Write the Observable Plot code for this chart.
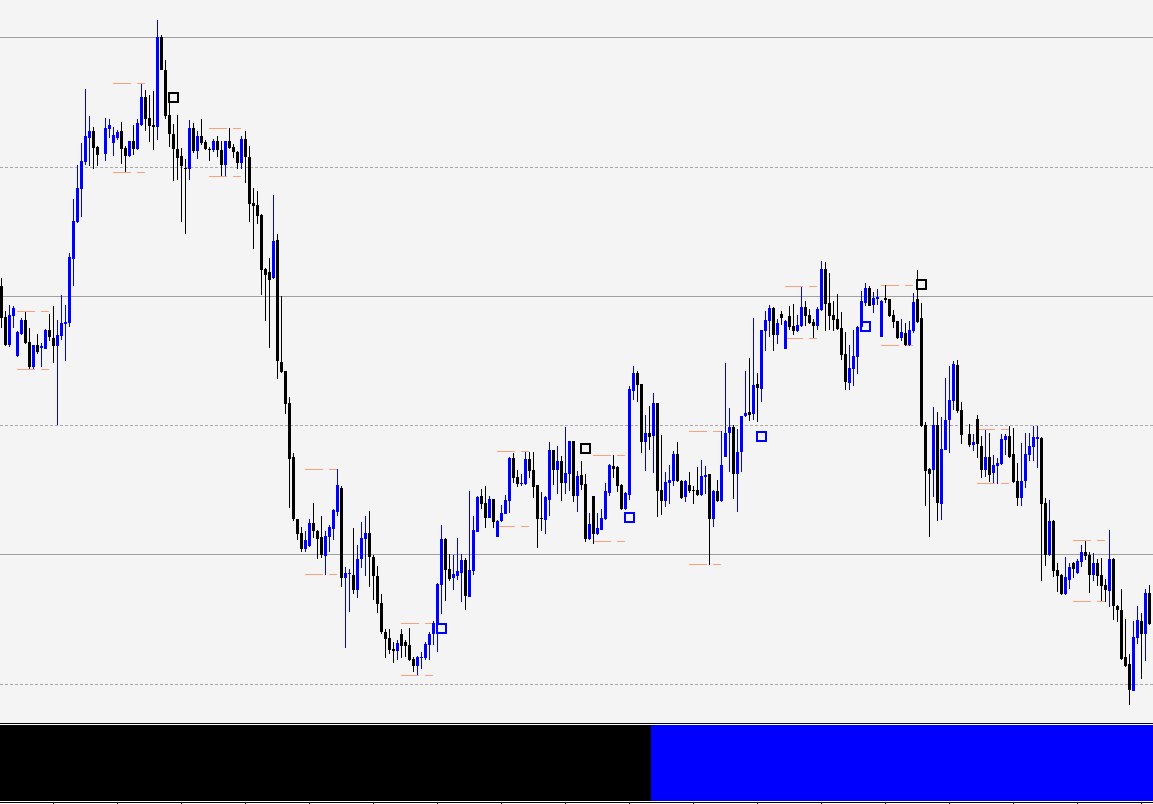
<!DOCTYPE html>
<html>
<head>
<meta charset="utf-8">
<script src="https://cdn.jsdelivr.net/npm/d3@7"></script>
<script src="https://cdn.jsdelivr.net/npm/@observablehq/plot@0.6"></script>
<style>
html, body { margin: 0; padding: 0; background: #ffffff; overflow: hidden; }
#strip { width: 1153px; border-top: 1px solid #000; border-bottom: 1px solid #000; background: #ffffff; }
svg { display: block; }
</style>
</head>
<body>
<div id="chart"></div>
<div id="strip"></div>
<div id="ticks"></div>
<script>
// ---- Price data (bar index 0..287, arbitrary price units; null = no bar) ----
const open = [
714,683,655,684,644,666,680,658,633,655,
652,651,670,662,654,664,676,677,741,778,
811,838,862,869,853,null,846,871,857,862,
869,852,844,859,851,875,903,882,875,873,
963,930,885,866,851,844,832,831,872,849,
864,858,851,850,859,850,835,859,853,848,
837,861,843,797,795,785,731,728,722,760,
638,629,597,543,481,467,451,454,477,469,
463,444,463,471,488,512,422,426,425,410,
441,461,467,443,424,397,368,362,351,349,
366,358,355,341,334,342,342,355,366,376,
415,461,431,422,424,427,440,403,429,468,
504,497,482,501,463,479,486,499,542,523,
516,516,541,530,515,482,480,500,550,530,
539,517,526,559,504,525,516,461,504,466,
470,481,507,534,533,515,491,505,609,627,
616,558,567,564,597,510,499,517,519,546,
519,503,515,510,510,505,523,526,481,509,
499,543,567,573,526,548,584,588,586,616,
611,669,679,692,665,686,651,684,674,669,
674,693,685,678,674,690,731,697,685,681,
672,646,617,631,643,673,697,712,695,701,
663,702,701,685,679,662,667,655,669,701,
682,575,531,530,575,496,550,580,599,635,
590,null,566,555,581,554,530,543,527,534,
536,560,564,546,519,502,519,545,553,561,
562,497,445,479,430,425,406,420,437,427,
438,448,445,425,437,425,415,409,441,394,
390,343,336,309,362,379,366,407
];
const high = [
722,689,695,694,669,682,688,672,655,666,
657,671,686,694,680,705,695,747,801,835,
857,911,884,873,854,null,882,881,873,870,
878,854,859,875,881,916,910,905,909,980,
965,940,898,876,885,852,841,880,877,869,
881,860,853,861,864,859,859,872,856,849,
864,869,854,812,809,786,732,742,805,766,
704,629,603,547,481,473,469,481,497,470,
484,469,475,491,531,514,433,431,472,455,
478,484,489,445,434,406,371,371,358,360,
371,360,372,343,344,348,358,368,379,417,
475,462,446,445,462,446,442,509,484,504,
511,514,504,501,480,495,505,543,547,530,
526,548,548,548,515,508,504,558,550,554,
544,573,559,559,529,539,526,487,504,487,
491,517,536,545,534,516,508,614,634,629,
616,585,594,607,597,565,528,535,549,558,
520,520,528,514,533,540,534,526,510,520,
569,637,592,575,571,584,629,642,682,627,
670,689,695,693,681,689,680,694,696,685,
713,699,691,681,693,739,738,727,699,706,
688,668,655,670,674,709,717,714,708,711,
700,715,701,690,679,681,677,679,707,730,
697,578,532,593,588,583,622,634,639,640,
598,null,576,566,585,564,570,567,545,542,
566,566,574,572,537,557,567,567,574,574,
563,502,500,480,437,426,443,437,438,441,
455,459,448,447,441,442,421,470,442,395,
411,381,346,379,394,387,411,415
];
const low = [
672,654,653,672,643,665,656,631,631,646,
633,651,659,637,575,660,639,673,714,777,
783,835,834,831,834,null,839,862,844,860,
836,828,843,845,850,874,869,858,850,860,
930,881,853,819,820,778,766,820,847,841,
855,850,839,848,843,824,824,851,842,831,
831,817,778,751,776,705,679,652,721,621,
627,586,492,479,460,448,448,453,462,441,
442,425,448,460,484,413,352,388,406,402,
432,424,413,400,387,366,342,346,337,340,
342,343,339,328,325,331,340,340,355,348,
386,399,419,410,420,398,390,403,425,468,
491,472,482,472,463,478,486,487,517,513,
514,515,522,502,452,469,466,484,515,506,
499,506,509,498,488,510,458,460,456,465,
470,480,504,522,508,490,490,500,600,598,
547,529,550,527,483,485,493,496,514,518,
501,498,507,496,504,504,506,435,473,498,
498,543,528,501,488,528,583,579,580,578,
598,649,663,649,656,675,651,670,665,668,
673,674,676,662,670,689,669,670,669,670,
640,610,610,614,626,672,694,694,687,695,
663,697,683,672,661,659,654,654,667,677,
573,494,463,503,479,480,550,547,590,587,
556,null,553,549,542,522,523,518,517,516,
535,545,542,517,494,494,512,539,539,532,
419,434,444,423,408,405,405,411,422,426,
433,440,407,419,414,399,398,393,380,378,
340,333,295,309,356,321,339,375
];
const close = [
682,655,685,692,668,680,657,633,655,648,
654,670,663,654,665,677,678,743,779,812,
839,864,869,852,845,null,872,875,865,868,
851,844,859,851,877,903,881,874,873,963,
930,884,866,851,842,834,831,872,849,864,
857,851,850,859,850,835,859,852,848,837,
861,843,796,794,784,730,725,720,759,639,
628,596,541,481,466,451,460,477,469,461,
445,464,473,490,515,422,427,427,410,441,
462,467,443,424,396,368,361,350,349,357,
354,354,340,334,343,343,356,366,377,416,
461,430,421,426,429,440,404,430,470,503,
496,482,501,478,479,487,500,542,522,516,
517,541,529,513,481,481,503,550,530,539,
517,527,559,504,524,515,461,476,466,472,
482,509,535,531,514,491,507,611,627,615,
558,567,563,597,509,499,518,520,546,519,
502,519,509,509,505,524,525,481,509,499,
535,567,573,526,548,584,587,585,615,612,
670,680,692,665,677,682,679,673,669,675,
693,684,677,674,691,731,696,684,680,671,
645,618,632,644,673,699,712,694,702,703,
699,700,684,678,662,668,655,670,698,678,
574,529,526,575,497,551,580,600,636,589,
565,null,555,558,556,530,543,525,535,537,
561,564,543,518,502,519,546,554,563,563,
496,445,479,429,424,406,423,433,431,439,
448,444,425,437,424,414,410,441,394,390,
341,334,310,363,380,366,407,376
];

// ---- Horizontal grid levels ----
const solidLevels = [963, 704, 446];
const dashedLevels = [833, 575, 316];

// ---- Daily range markers (bar index span, high/low level) ----
const rangeStart = [4, 28, 52, 76, 100, 124, 148, 172, 196, 220, 244, 268];
const rangeEnd   = [12, 36, 60, 84, 108, 132, 156, 180, 204, 228, 252, 276];
const rangeHigh  = [689, 917, 872, 531, 377, 549, 545, 569, 714, 715, 571, 460];
const rangeLow   = [631, 828, 824, 426, 325, 474, 459, 436, 662, 655, 517, 399];

// ---- Square signal markers ----
const signalIndex = [43, 146, 230, 110, 157, 190, 216];
const signalLevel = [903, 552, 716, 372, 483, 564, 674];
const signalColor = ["#000000", "#000000", "#000000", "#0000ff", "#0000ff", "#0000ff", "#0000ff"];

// ---- Lower indicator strip (runs of bars by colour) ----
const stripFrom  = [0, 163];
const stripTo    = [162, 287];
const stripColor = ["#000000", "#0000ff"];

// ---- Time-axis tick bars ----
const timeTicks = [13, 29, 45, 61, 77, 93, 109, 125, 141, 157, 173, 189, 205, 221, 237, 253, 269, 285];

// ---- Build tables ----
const bull = "#0000ff", bear = "#000000";
const candles = open.map((o, i) => ({i, open: o, high: high[i], low: low[i], close: close[i]}))
  .filter(d => d.open != null);
const candleColor = d => (d.close > d.open ? bull : bear);
const ranges = [];
rangeStart.forEach((s, k) => {
  ranges.push({x1: s, x2: rangeEnd[k], y: rangeHigh[k]});
  ranges.push({x1: s, x2: rangeEnd[k], y: rangeLow[k]});
});
const signals = signalIndex.map((x, k) => ({x, y: signalLevel[k], c: signalColor[k]}));
const strip = stripFrom.map((f, k) => ({x1: f - 0.5, x2: stripTo[k] + 0.5 + (k === stripFrom.length - 1 ? 0.5 : 0), c: stripColor[k]}));

const xOpts = {type: "linear", domain: [-0.5, 287.5], range: [-1, 1151], axis: null};

const main = Plot.plot({
  width: 1153, height: 723, margin: 0,
  x: xOpts,
  y: {domain: [277, 1000], axis: null},
  color: {type: "identity"},
  style: {background: "#f4f4f4", display: "block", maxWidth: "none"},
  marks: [
    Plot.ruleY(solidLevels, {stroke: "#a0a0a0"}),
    Plot.ruleY(dashedLevels, {stroke: "#a8a8a8", strokeDasharray: "3,2"}),
    Plot.ruleY(ranges, {x1: "x1", x2: "x2", y: "y", stroke: "#ffa07a", strokeDasharray: "18,6"}),
    Plot.ruleX(candles, {x: "i", y1: "low", y2: "high", stroke: candleColor, strokeWidth: 1}),
    Plot.ruleX(candles, {x: "i", y1: "open", y2: "close", stroke: candleColor, strokeWidth: 3}),
    Plot.dot(signals, {x: "x", y: "y", symbol: "square", r: 5.08, stroke: "c", strokeWidth: 2, fill: "none"})
  ]
});
document.getElementById("chart").append(main);

const lower = Plot.plot({
  width: 1153, height: 78, marginTop: 1, marginBottom: 1, marginLeft: 0, marginRight: 0,
  x: xOpts,
  y: {domain: [0, 1], axis: null},
  color: {type: "identity"},
  style: {background: "#ffffff", display: "block", maxWidth: "none"},
  marks: [
    Plot.rect(strip, {x1: "x1", x2: "x2", y1: 0, y2: 1, fill: "c"})
  ]
});
document.getElementById("strip").append(lower);

const ticks = Plot.plot({
  width: 1153, height: 2, margin: 0,
  x: xOpts,
  style: {background: "#ffffff", display: "block", maxWidth: "none"},
  marks: [
    Plot.tickX(timeTicks, {x: d => d, stroke: "#000000"})
  ]
});
document.getElementById("ticks").append(ticks);
</script>
</body>
</html>
